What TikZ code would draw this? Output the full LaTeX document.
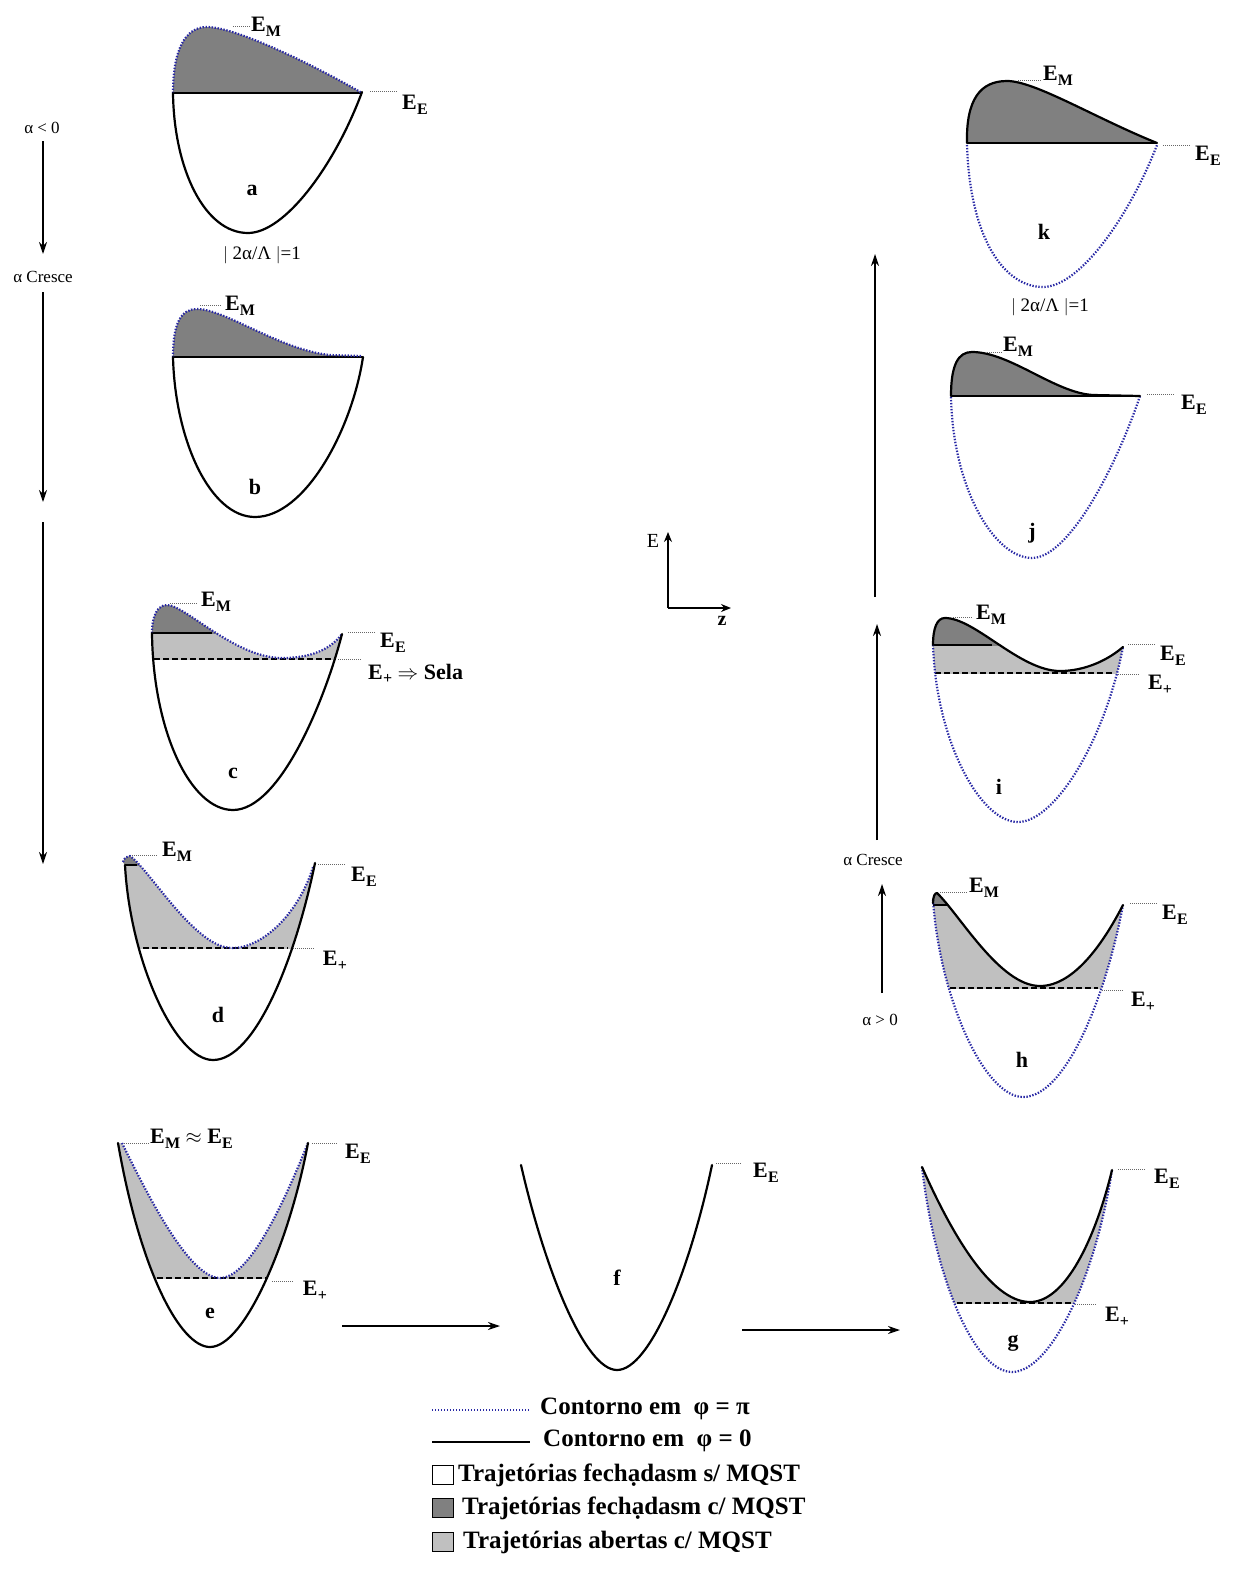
\documentclass[tikz,border=0pt]{standalone}
\usepackage{fontspec}
\setmainfont{Liberation Serif}
\usetikzlibrary{arrows.meta}
\definecolor{mqdark}{RGB}{128,128,128}
\definecolor{mqlight}{RGB}{192,192,192}
\definecolor{piblue}{RGB}{40,40,165}
\newcommand{\Eb}[1]{E\kern0.01em\raisebox{-4.5pt}{\fontsize{16}{16}\selectfont #1}}
\begin{document}
\begin{tikzpicture}[x=1pt,y=-1pt,
  contour/.style={line width=2.2pt, line join=round, line cap=round},
  piline/.style={draw=piblue, line width=2.2pt, dash pattern=on 1.4pt off 1.6pt},
  plusline/.style={line width=1.5pt, dash pattern=on 6pt off 3pt},
  baseline0/.style={line width=1.5pt},
  leader/.style={draw=black!60, line width=0.9pt, dash pattern=on 1pt off 1pt},
  elab/.style={font=\bfseries\fontsize{22}{22}\selectfont, inner sep=0pt},
  panlab/.style={font=\bfseries\fontsize{22}{22}\selectfont, inner sep=0pt},
  smalllab/.style={font=\fontsize{17}{17}\selectfont, inner sep=0pt},
  condlab/.style={font=\fontsize{19}{19}\selectfont, inner sep=0pt},
  leglab/.style={font=\bfseries\fontsize{25}{25}\selectfont, inner sep=0pt, anchor=west},
  flow/.style={line width=1.3pt, -{Stealth[length=12pt,width=8pt]}},
  axisarrow/.style={line width=1.2pt, -{Stealth[length=10pt,width=8pt]}},
  legbox/.style={draw=black, line width=0.8pt}]
\useasboundingbox (0,0) rectangle (1237,1571);
\fill[white] (0,0) rectangle (1237,1571);

% ================= panel a =================
\fill[mqdark] (173,93) .. controls (173,50) and (185,27) .. (207,27) .. controls (235,27) and (310,63) .. (362,93) -- cycle;
\draw[baseline0] (173,93) -- (362,93);
\draw[piline] (173,93) .. controls (173,50) and (185,27) .. (207,27) .. controls (235,27) and (310,63) .. (362,93);
\draw[contour] (173,93) .. controls (174,170) and (205,233) .. (248,233) .. controls (285,233) and (335,165) .. (362,92);
\draw[leader] (233,26) -- (250,26);
\draw[leader] (370,91) -- (397,91);
\node[elab] (aEM) at (266,27) {\Eb{M}};
\node[elab] (aEE) at (415,105) {\Eb{E}};
\node[panlab] (alab) at (252,190) {a};
\node[condlab] (acond) at (262,255) {$|$ 2α/Λ $|$=1};

% ================= panel b =================
\fill[mqdark] (173,357) .. controls (173,325) and (180,309) .. (197,309) .. controls (225,309) and (280,350) .. (330,355) -- (362,356) -- (363,357) -- cycle;
\draw[baseline0] (173,357) -- (363,357);
\draw[piline] (173,357) .. controls (173,325) and (180,309) .. (197,309) .. controls (225,309) and (280,350) .. (330,355) -- (362,356);
\draw[contour] (173,357) .. controls (175,440) and (210,517) .. (255,517) .. controls (305,517) and (352,430) .. (363,357);
\draw[leader] (200,305) -- (222,305);
\node[elab] (bEM) at (240,306) {\Eb{M}};
\node[panlab] (blab) at (255,487) {b};

% ================= panel c =================
\begin{scope}
\clip (100,560) rectangle (400,659);
\fill[mqlight] (152,633) .. controls (152,615) and (158,605) .. (167,605) .. controls (185,605) and (235,658) .. (282,658) .. controls (310,658) and (330,650) .. (342,634) .. controls (325,700) and (280,810) .. (233,810) .. controls (190,810) and (153,730) .. (152,633) -- cycle;
\end{scope}
\begin{scope}
\clip (100,560) rectangle (400,633);
\fill[mqdark] (152,633) .. controls (152,615) and (158,605) .. (167,605) .. controls (185,605) and (235,658) .. (282,658) .. controls (310,658) and (330,650) .. (342,634) .. controls (325,700) and (280,810) .. (233,810) .. controls (190,810) and (153,730) .. (152,633) -- cycle;
\end{scope}
\draw[baseline0] (152,633) -- (212,633);
\draw[plusline] (154,659) -- (333,659);
\draw[piline] (152,633) .. controls (152,615) and (158,605) .. (167,605) .. controls (185,605) and (235,658) .. (282,658) .. controls (310,658) and (330,650) .. (342,634);
\draw[contour] (152,633) .. controls (153,730) and (190,810) .. (233,810) .. controls (280,810) and (325,700) .. (342,634);
\draw[leader] (170,603) -- (197,603);
\draw[leader] (348,632) -- (375,632);
\draw[leader] (338,659) -- (362,659);
\node[elab] (cEM) at (216,602) {\Eb{M}};
\node[elab] (cEE) at (393,643) {\Eb{E}};
\node[elab, anchor=west] (cEP) at (368,674) {\Eb{+} $\Rightarrow$ Sela};
\node[panlab] (clab) at (233,773) {c};

% ================= panel d =================
\begin{scope}
\clip (100,800) rectangle (400,948);
\fill[mqlight] (123,862) .. controls (124,858) and (127,856) .. (130,856) .. controls (150,870) and (195,948) .. (232,948) .. controls (265,948) and (300,910) .. (313,867) -- (315,863) .. controls (295,960) and (255,1060) .. (213,1060) .. controls (175,1060) and (130,960) .. (125,865) -- cycle;
\end{scope}
\begin{scope}
\clip (100,800) rectangle (200,865);
\fill[mqdark] (123,862) .. controls (124,858) and (127,856) .. (130,856) .. controls (150,870) and (195,948) .. (232,948) .. controls (265,948) and (300,910) .. (313,867) -- (315,863) .. controls (295,960) and (255,1060) .. (213,1060) .. controls (175,1060) and (130,960) .. (125,865) -- cycle;
\end{scope}
\draw[baseline0] (125,865) -- (137,865);
\draw[plusline] (143,948) -- (288,948);
\draw[piline] (123,862) .. controls (124,858) and (127,856) .. (130,856) .. controls (150,870) and (195,948) .. (232,948) .. controls (265,948) and (300,910) .. (313,867);
\draw[contour] (125,865) .. controls (130,960) and (175,1060) .. (213,1060) .. controls (255,1060) and (295,960) .. (315,863);
\draw[leader] (132,855) -- (158,855);
\draw[leader] (318,864) -- (345,864);
\draw[leader] (293,948) -- (315,948);
\node[elab] (dEM) at (177,852) {\Eb{M}};
\node[elab] (dEE) at (364,877) {\Eb{E}};
\node[elab] (dEP) at (335,961) {\Eb{+}};
\node[panlab] (dlab) at (218,1015) {d};

% ================= panel e =================
\begin{scope}
\clip (100,1100) rectangle (400,1278);
\fill[mqlight] (122,1143) .. controls (150,1200) and (190,1278) .. (220,1278) .. controls (250,1278) and (285,1200) .. (308,1143) .. controls (290,1240) and (245,1347) .. (210,1347) .. controls (180,1347) and (140,1270) .. (118,1143) -- cycle;
\end{scope}
\draw[plusline] (157,1278) -- (267,1278);
\draw[piline] (122,1143) .. controls (150,1200) and (190,1278) .. (220,1278) .. controls (250,1278) and (285,1200) .. (308,1143);
\draw[contour] (118,1143) .. controls (140,1270) and (180,1347) .. (210,1347) .. controls (245,1347) and (290,1240) .. (308,1143);
\draw[leader] (124,1143) -- (150,1143);
\draw[leader] (312,1143) -- (338,1143);
\draw[leader] (272,1281) -- (293,1281);
\node[elab, anchor=west] (eEM) at (150,1139) {\Eb{M} $\approx$ \Eb{E}};
\node[elab] (eEE) at (358,1154) {\Eb{E}};
\node[elab] (eEP) at (315,1291) {\Eb{+}};
\node[panlab] (elab) at (210,1313) {e};

% ================= panel f =================
\draw[contour] (521,1165) .. controls (545,1270) and (585,1370) .. (617,1370) .. controls (650,1370) and (690,1270) .. (712,1165);
\draw[leader] (716,1163) -- (742,1163);
\node[elab] (fEE) at (766,1173) {\Eb{E}};
\node[panlab] (flab) at (617,1278) {f};

% ================= panel g =================
\begin{scope}
\clip (900,1100) rectangle (1200,1303);
\fill[mqlight] (922,1167) .. controls (950,1230) and (990,1302) .. (1030,1302) .. controls (1065,1302) and (1095,1240) .. (1112,1170) .. controls (1095,1280) and (1050,1372) .. (1012,1372) .. controls (975,1372) and (935,1280) .. (922,1167) -- cycle;
\end{scope}
\draw[plusline] (957,1303) -- (1071,1303);
\draw[piline] (922,1167) .. controls (935,1280) and (975,1372) .. (1012,1372) .. controls (1050,1372) and (1095,1280) .. (1112,1170);
\draw[contour] (922,1167) .. controls (950,1230) and (990,1302) .. (1030,1302) .. controls (1065,1302) and (1095,1240) .. (1112,1170);
\draw[leader] (1118,1169) -- (1145,1169);
\draw[leader] (1075,1304) -- (1097,1304);
\node[elab] (gEE) at (1167,1179) {\Eb{E}};
\node[elab] (gEP) at (1117,1317) {\Eb{+}};
\node[panlab] (glab) at (1013,1343) {g};

% ================= panel h =================
\begin{scope}
\clip (900,850) rectangle (1200,988);
\fill[mqlight] (933,903) .. controls (933,896) and (935,893) .. (937,893) .. controls (960,915) and (1000,986) .. (1040,986) .. controls (1075,986) and (1105,940) .. (1123,905) .. controls (1105,1000) and (1065,1097) .. (1023,1097) .. controls (985,1097) and (940,1000) .. (933,900) -- cycle;
\end{scope}
\begin{scope}
\clip (900,850) rectangle (1000,905);
\fill[mqdark] (933,903) .. controls (933,896) and (935,893) .. (937,893) .. controls (960,915) and (1000,986) .. (1040,986) .. controls (1075,986) and (1105,940) .. (1123,905) .. controls (1105,1000) and (1065,1097) .. (1023,1097) .. controls (985,1097) and (940,1000) .. (933,900) -- cycle;
\end{scope}
\draw[baseline0] (933,905) -- (948,905);
\draw[plusline] (950,988) -- (1098,988);
\draw[piline] (933,900) .. controls (940,1000) and (985,1097) .. (1023,1097) .. controls (1065,1097) and (1105,1000) .. (1123,905);
\draw[contour] (933,903) .. controls (933,896) and (935,893) .. (937,893) .. controls (960,915) and (1000,986) .. (1040,986) .. controls (1075,986) and (1105,940) .. (1123,905);
\draw[leader] (940,892) -- (967,892);
\draw[leader] (1130,903) -- (1157,903);
\draw[leader] (1102,990) -- (1123,990);
\node[elab] (hEM) at (984,888) {\Eb{M}};
\node[elab] (hEE) at (1175,915) {\Eb{E}};
\node[elab] (hEP) at (1143,1002) {\Eb{+}};
\node[panlab] (hlab) at (1022,1060) {h};

% ================= panel i =================
\begin{scope}
\clip (900,590) rectangle (1200,673);
\fill[mqlight] (933,645) .. controls (933,628) and (937,618) .. (945,618) .. controls (975,618) and (1020,671) .. (1060,671) .. controls (1085,671) and (1108,660) .. (1123,647) .. controls (1105,740) and (1055,822) .. (1018,822) .. controls (980,822) and (936,740) .. (933,645) -- cycle;
\end{scope}
\begin{scope}
\clip (900,590) rectangle (1200,645);
\fill[mqdark] (933,645) .. controls (933,628) and (937,618) .. (945,618) .. controls (975,618) and (1020,671) .. (1060,671) .. controls (1085,671) and (1108,660) .. (1123,647) .. controls (1105,740) and (1055,822) .. (1018,822) .. controls (980,822) and (936,740) .. (933,645) -- cycle;
\end{scope}
\draw[baseline0] (933,645) -- (992,645);
\draw[plusline] (935,673) -- (1113,673);
\draw[piline] (933,645) .. controls (936,740) and (980,822) .. (1018,822) .. controls (1055,822) and (1105,740) .. (1123,647);
\draw[contour] (933,645) .. controls (933,628) and (937,618) .. (945,618) .. controls (975,618) and (1020,671) .. (1060,671) .. controls (1085,671) and (1108,660) .. (1123,647);
\draw[leader] (953,617) -- (973,617);
\draw[leader] (1128,644) -- (1155,644);
\draw[leader] (1118,674) -- (1140,674);
\node[elab] (iEM) at (991,615) {\Eb{M}};
\node[elab] (iEE) at (1173,656) {\Eb{E}};
\node[elab] (iEP) at (1160,685) {\Eb{+}};
\node[panlab] (ilab) at (999,787) {i};

% ================= panel j =================
\fill[mqdark] (951,396) .. controls (951,365) and (958,352) .. (972,352) .. controls (1010,352) and (1055,393) .. (1093,395) -- cycle;
\draw[baseline0] (951,396) -- (1140,396);
\draw[piline] (951,397) .. controls (953,490) and (995,558) .. (1032,558) .. controls (1068,558) and (1115,470) .. (1140,396);
\draw[contour] (951,396) .. controls (951,365) and (958,352) .. (972,352) .. controls (1010,352) and (1055,393) .. (1093,395) -- (1140,396);
\draw[leader] (985,352) -- (1003,352);
\draw[leader] (1147,394) -- (1175,394);
\node[elab] (jEM) at (1018,347) {\Eb{M}};
\node[elab] (jEE) at (1194,405) {\Eb{E}};
\node[panlab] (jlab) at (1032,533) {j};

% ================= panel k =================
\fill[mqdark] (967,143) .. controls (966,100) and (980,81) .. (1007,81) .. controls (1035,81) and (1095,118) .. (1157,143) -- cycle;
\draw[baseline0] (967,143) -- (1157,143);
\draw[piline] (967,145) .. controls (970,240) and (1005,287) .. (1043,287) .. controls (1080,287) and (1130,215) .. (1157,145);
\draw[contour] (967,143) .. controls (966,100) and (980,81) .. (1007,81) .. controls (1035,81) and (1095,118) .. (1157,143);
\draw[leader] (1018,80) -- (1042,80);
\draw[leader] (1163,145) -- (1190,145);
\node[elab] (kEM) at (1058,76) {\Eb{M}};
\node[elab] (kEE) at (1208,156) {\Eb{E}};
\node[panlab] (klab) at (1044,232) {k};
\node[condlab] (kcond) at (1050,307) {$|$ 2α/Λ $|$=1};

% ================= left flow arrows =================
\node[smalllab] (alneg) at (42,128) {α < 0};
\node[smalllab] (lcresce) at (43,277) {α Cresce};
\coordinate (l1s) at (43,141);
\coordinate (l1e) at (43,254);
\coordinate (l2s) at (43,292);
\coordinate (l2e) at (43,502);
\coordinate (l3s) at (43,522);
\coordinate (l3e) at (43,864);
\draw[flow] (l1s) -- (l1e);
\draw[flow] (l2s) -- (l2e);
\draw[flow] (l3s) -- (l3e);

% ================= right flow arrows =================
\node[smalllab] (rcresce) at (873,860) {α Cresce};
\node[smalllab] (alpos) at (880,1020) {α > 0};
\coordinate (r1s) at (875,597);
\coordinate (r1e) at (875,254);
\coordinate (r2s) at (877,840);
\coordinate (r2e) at (877,624);
\coordinate (r3s) at (882,993);
\coordinate (r3e) at (882,884);
\draw[flow] (r1s) -- (r1e);
\draw[flow] (r2s) -- (r2e);
\draw[flow] (r3s) -- (r3e);

% ================= bottom flow arrows =================
\coordinate (b1s) at (342,1326);
\coordinate (b1e) at (500,1326);
\coordinate (b2s) at (742,1330);
\coordinate (b2e) at (900,1330);
\draw[flow] (b1s) -- (b1e);
\draw[flow] (b2s) -- (b2e);

% ================= axes =================
\coordinate (ax0) at (668,608);
\coordinate (axE) at (668,532);
\coordinate (axz) at (731,608);
\draw[axisarrow] (ax0) -- (axE);
\draw[axisarrow] (ax0) -- (axz);
\node[font=\fontsize{20}{20}\selectfont, inner sep=0pt] (axElab) at (653,541) {E};
\node[font=\bfseries\fontsize{20}{20}\selectfont, inner sep=0pt] (axzlab) at (722,621) {z};

% ================= legend =================
\coordinate (lg1a) at (432,1410);
\coordinate (lg1b) at (530,1410);
\coordinate (lg2a) at (432,1442);
\coordinate (lg2b) at (530,1442);
\draw[piline] (lg1a) -- (lg1b);
\draw[contour, line cap=butt] (lg2a) -- (lg2b);
\node[leglab] (leg1) at (540,1409) {Contorno em\ \ φ = π};
\node[leglab] (leg2) at (543,1441) {Contorno em\ \ φ = 0};
\draw[legbox, fill=white] (432,1465) rectangle (453,1484);
\node[leglab] (leg3) at (458,1475) {Trajetórias fechạdasm s/ MQST};
\draw[legbox, fill=mqdark] (432,1498) rectangle (453,1517);
\node[leglab] (leg4) at (462,1508) {Trajetórias fechạdasm c/ MQST};
\draw[legbox, fill=mqlight] (432,1532) rectangle (453,1551);
\node[leglab] (leg5) at (463,1542) {Trajetórias abertas c/ MQST};
\end{tikzpicture}
\end{document}
